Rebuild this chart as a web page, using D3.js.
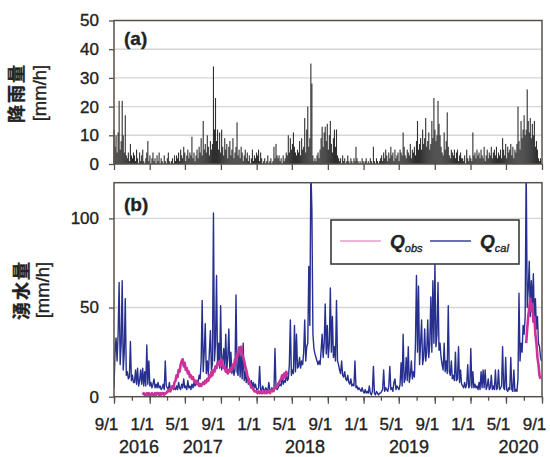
<!DOCTYPE html>
<html>
<head>
<meta charset="utf-8">
<script src="https://cdn.jsdelivr.net/npm/d3@7"></script>
<style>
    body { margin: 0; background: #fff; }
    text { font-family: "Liberation Sans", Arial, sans-serif; fill: #222; stroke: #222; stroke-width: 0.35px; }
</style>
</head>
<body>
<div id="chart"></div>
<script>
const startDate = "2016-09-01", endDate = "2020-09-01"
const stepHours = 84 // one value every 3.5 days

// (a) rainfall [mm/h]
const rain = [
    12, 6, 10, 4, 11, 22, 5, 8, 22, 10, 4, 17, 3, 2, 4, 1, 7, 3, 2, 4,
    3, 1, 5, 2, 0, 4, 1, 3, 5, 1, 0, 2, 4, 8, 1, 3, 0, 2, 4, 1,
    2, 0, 3, 1, 4, 0, 2, 1, 0, 3, 1, 0, 2, 4, 1, 0, 1, 2, 0, 3,
    1, 3, 2, 4, 1, 5, 3, 2, 6, 4, 1, 3, 5, 2, 4, 3, 9.5, 2, 4, 1,
    3, 5, 2, 6, 4, 9, 3, 15, 5, 7, 4, 10, 6, 3, 8, 5, 7, 34, 12, 23,
    8, 12, 5, 11, 4, 12, 6, 3, 9, 5, 7, 2, 6, 8, 3, 5, 9, 2, 4, 6,
    14.5, 3, 5, 2, 6, 4, 1, 3, 5, 2, 4, 1, 3, 0, 2, 5, 1, 3, 2, 4,
    3, 5, 1, 4, 2, 0, 1, 2, 0, 1, 3, 0, 1, 2, 0, 1, 6, 2, 7, 3,
    2, 3, 1, 2, 0, 3, 1, 2, 4, 3, 10, 4, 9, 5, 7, 11, 6, 4, 3, 5,
    4, 8, 3, 9, 5, 6, 16, 4, 12, 20, 6, 9, 35, 28, 3, 1, 2, 1, 3, 4,
    2, 5, 9, 13, 6, 11, 13, 8, 14, 5, 10, 15, 7, 4, 9, 12, 6, 12, 3, 2,
    1, 2, 0, 3, 1, 2, 0, 1, 3, 1, 0, 2, 1, 0, 2, 1, 6, 2, 1, 0,
    1, 0, 2, 1, 0, 1, 2, 0, 1, 0, 2, 1, 0, 6, 1, 0, 2, 1, 0, 1,
    2, 3, 1, 4, 2, 5, 3, 1, 4, 2, 6, 3, 4, 1, 5, 2, 3, 4, 1, 5,
    4, 3, 11, 6, 3, 2, 5, 4, 3, 7, 2, 5, 4, 6, 3, 8, 15, 5, 7, 9,
    5, 12, 7, 9, 16, 6, 8, 11, 5, 7, 15, 9, 23, 12, 8, 10, 22, 14, 10, 6,
    4, 3, 11, 5, 8, 18, 6, 3, 2, 5, 4, 3, 5, 2, 4, 5, 1, 3, 4, 2,
    2, 1, 3, 0, 5, 2, 1, 3, 2, 1, 11, 3, 4, 2, 5, 3, 4, 2, 5, 3,
    2, 6, 1, 3, 5, 2, 4, 3, 6, 2, 4, 5, 3, 6, 2, 4, 3, 5, 2, 9,
    5, 3, 7, 2, 6, 4, 5, 7, 3, 6, 2, 5, 4, 7, 20, 8, 5, 15, 9, 12,
    17, 10, 12, 26, 15, 11, 16, 9, 14, 10, 15, 6, 8, 5, 2, 1, 2, 0
]

// (b) spring discharge, calculated [mm/h]
const qCal = [
    5, 25, 33, 20, 35, 64, 18, 30, 65, 15, 25, 55, 12, 14, 10, 11, 31, 9, 12, 8,
    8, 15, 7, 16, 6, 9, 15, 7, 16, 6, 14, 6, 29, 7, 20, 6, 8, 5, 7, 10,
    5, 7, 5, 8, 5, 6, 4, 5, 7, 4, 20, 6, 5, 4, 8, 4, 5, 6, 4, 5,
    4, 6, 4, 8, 5, 4, 7, 5, 10, 5, 6, 4, 9, 5, 6, 4, 7, 5, 8, 6,
    7, 9, 8, 12, 10, 20, 54, 14, 25, 41, 13, 20, 12, 25, 37, 15, 18, 103, 20, 30,
    68, 18, 30, 16, 51, 15, 20, 27, 16, 35, 15, 22, 38, 14, 25, 13, 18, 12, 15, 57,
    14, 12, 28, 11, 25, 10, 30, 9, 14, 8, 12, 7, 10, 6, 9, 5, 8, 5, 7, 4,
    4, 5, 17, 4, 3, 6, 4, 3, 5, 4, 3, 8, 4, 3, 5, 4, 3, 27, 5, 4,
    5, 6, 7, 6, 12, 7, 9, 8, 14, 9, 10, 18, 43, 12, 15, 13, 40, 14, 35, 16,
    17, 22, 16, 20, 18, 25, 43, 20, 28, 30, 73, 40, 128, 105, 35, 27, 24, 22, 20, 18,
    20, 18, 26, 35, 22, 30, 52, 24, 40, 22, 30, 61, 25, 45, 22, 28, 20, 54, 20, 18,
    15, 13, 20, 12, 11, 14, 10, 9, 12, 8, 7, 10, 6, 7, 6, 20, 5, 6, 4, 5,
    4, 3, 5, 3, 2, 4, 2, 3, 2, 6, 2, 1, 3, 17, 2, 1, 3, 2, 1, 2,
    2, 3, 4, 15, 3, 5, 4, 3, 6, 17, 4, 5, 3, 8, 10, 4, 6, 5, 4, 7,
    19, 6, 35, 8, 10, 22, 9, 28, 8, 12, 20, 10, 14, 11, 30, 68, 25, 62, 18, 30,
    43, 18, 22, 38, 20, 25, 43, 22, 30, 56, 25, 65, 30, 75, 28, 35, 64, 26, 30, 22,
    18, 15, 30, 14, 20, 13, 51, 14, 12, 20, 10, 12, 9, 25, 9, 10, 28, 8, 15, 7,
    6, 5, 8, 5, 7, 18, 5, 6, 27, 5, 14, 5, 7, 5, 6, 4, 8, 4, 14, 5,
    15, 5, 15, 4, 6, 10, 4, 5, 12, 4, 6, 4, 15, 4, 5, 15, 4, 5, 6, 28,
    5, 4, 22, 4, 3, 5, 4, 22, 4, 3, 15, 3, 4, 3, 10, 58, 20, 30, 25, 40,
    35, 45, 130, 50, 60, 76, 45, 65, 50, 69, 42, 55, 38, 45, 30, 28, 22, 20
]

// (b) spring discharge, observed [mm/h] (two observation periods)
const qObsStartA = "2016-12-08"
const qObsA = [
    1, 2, 1, 1, 2, 1, 2, 1, 1, 2, 1, 1, 2, 1, 2, 2, 1, 2, 1, 2, 2, 1, 2, 2, 3,
    3, 4, 3, 5, 6, 5, 8, 9, 12, 11, 15, 14, 18, 20,
    21, 17, 19, 15, 16, 13, 14, 11, 12, 10, 11, 9,
    8, 9, 7, 8, 6, 7, 6, 7, 8, 7, 9, 8,
    10, 9, 12, 11, 14, 12, 15, 14, 17, 16, 19, 18, 20, 17, 21,
    18, 16, 17, 14, 15, 13, 15, 14, 16,
    15, 18, 17, 21, 20, 24, 23, 27, 25, 28, 24, 22,
    20, 17, 15, 12, 10, 8, 7, 5, 5, 4, 3, 3,
    3, 2, 3, 2, 3, 2, 2, 3, 2, 3, 2, 3, 3, 2, 3, 4, 3, 4, 5,
    5, 6, 7, 8, 9, 10, 12, 10, 13, 11, 14, 12
]
const qObsStartB = "2020-07-09"
const qObsB = [30, 38, 45, 50, 55, 48, 52, 42, 45, 35, 30, 22, 18, 12, 10]

const rainTicks = [0, 10, 20, 30, 40, 50]
const flowTicks = [0, 50, 100]
const yearLabels = ["2016", "2017", "2018", "2019", "2020"]
const yearDates = ["2016-11-25", "2017-07-01", "2018-06-15", "2019-06-05", "2020-06-13"]

const parse = d3.timeParse("%Y-%m-%d")
const frameColor = "#57504a", gridColor = "#d6d6d6"
const calColor = "#27308f", obsColor = "#cc3399"

const x = d3.scaleTime().domain([parse(startDate), parse(endDate)]).range([114, 542])
const yRain = d3.scaleLinear().domain([0, 50]).range([164, 20.5])
const yFlow = d3.scaleLinear().domain([0, 120]).range([396.7, 182.7])

function series(values, start) {
    const t0 = parse(start)
    return values.map((v, i) => ({ date: d3.timeHour.offset(t0, stepHours * i), v: v }))
}

const svg = d3.select("#chart").append("svg")
    .attr("width", 550)
    .attr("height", 457)

// ---------- panel (a) ----------
svg.append("g").selectAll("line")
    .data(rainTicks.slice(1, -1))
    .enter().append("line")
    .attr("x1", x.range()[0]).attr("x2", x.range()[1])
    .attr("y1", d => yRain(d)).attr("y2", d => yRain(d))
    .attr("stroke", gridColor).attr("stroke-width", 1.4)

svg.append("g").selectAll("rect")
    .data(series(rain, startDate))
    .enter().append("rect")
    .attr("x", d => x(d.date) - 0.55)
    .attr("width", 1.1)
    .attr("y", d => yRain(d.v))
    .attr("height", d => yRain(0) - yRain(d.v))
    .attr("fill", "#0d0d0d")
    .attr("fill-opacity", 0.85)

svg.append("rect")
    .attr("x", 114).attr("y", yRain(50))
    .attr("width", 428).attr("height", yRain(0) - yRain(50))
    .attr("fill", "none").attr("stroke", frameColor).attr("stroke-width", 1.5)

const yAxisA = svg.append("g")
    .attr("transform", "translate(114,0)")
    .call(d3.axisLeft(yRain).tickValues(rainTicks).tickSize(5).tickPadding(10))
const xAxisA = svg.append("g")
    .attr("transform", `translate(0,${yRain(0)})`)
    .call(d3.axisBottom(x).ticks(d3.timeMonth.every(4)).tickSize(6).tickFormat(""))

svg.append("text")
    .attr("x", 124).attr("y", 45)
    .style("font-size", "19px").style("font-weight", "bold")
    .text("(a)")

// ---------- panel (b) ----------
svg.append("g").selectAll("line")
    .data(flowTicks.slice(1))
    .enter().append("line")
    .attr("x1", x.range()[0]).attr("x2", x.range()[1])
    .attr("y1", d => yFlow(d)).attr("y2", d => yFlow(d))
    .attr("stroke", gridColor).attr("stroke-width", 1.4)

svg.append("clipPath").attr("id", "clipB")
    .append("rect")
    .attr("x", 114).attr("y", yFlow(120))
    .attr("width", 428).attr("height", yFlow(0) - yFlow(120))

const line = d3.line()
    .x(d => x(d.date))
    .y(d => yFlow(d.v))

const plotB = svg.append("g").attr("clip-path", "url(#clipB)")
plotB.append("path")
    .datum(series(qCal, startDate))
    .attr("d", line)
    .attr("fill", "none")
    .attr("stroke", calColor)
    .attr("stroke-width", 1.4)
    .attr("stroke-linejoin", "round")

const obsData = [series(qObsA, qObsStartA), series(qObsB, qObsStartB)]
plotB.selectAll(".obs")
    .data(obsData)
    .enter().append("path")
    .attr("class", "obs")
    .attr("d", line)
    .attr("fill", "none")
    .attr("stroke", obsColor)
    .attr("stroke-width", 2.6)
    .attr("stroke-linejoin", "round")

svg.append("rect")
    .attr("x", 114).attr("y", yFlow(120))
    .attr("width", 428).attr("height", yFlow(0) - yFlow(120))
    .attr("fill", "none").attr("stroke", frameColor).attr("stroke-width", 1.5)

const yAxisB = svg.append("g")
    .attr("transform", "translate(114,0)")
    .call(d3.axisLeft(yFlow).tickValues(flowTicks).tickSize(5).tickPadding(10))

const xMinor = svg.append("g")
    .attr("transform", `translate(0,${yFlow(0)})`)
    .call(d3.axisBottom(x).ticks(d3.timeMonth.every(2)).tickSize(4).tickFormat(""))
const xAxisB = svg.append("g")
    .attr("transform", `translate(0,${yFlow(0)})`)
    .call(d3.axisBottom(x).ticks(d3.timeMonth.every(4)).tickSize(7).tickPadding(14)
        .tickFormat(d3.timeFormat("%-m/%-d")))
xAxisB.selectAll("text").attr("dx", -8)

svg.append("g").selectAll("text")
    .data(yearLabels)
    .enter().append("text")
    .attr("x", (d, i) => x(parse(yearDates[i])))
    .attr("y", 453)
    .attr("text-anchor", "middle")
    .style("font-size", "18px")
    .text(d => d)

svg.append("text")
    .attr("x", 124).attr("y", 211)
    .style("font-size", "19px").style("font-weight", "bold")
    .text("(b)")

// axis styling
for (const ax of [yAxisA, xAxisA, yAxisB, xMinor, xAxisB]) {
    ax.select(".domain").remove()
    ax.selectAll("line").attr("stroke", frameColor).attr("stroke-width", 1.3)
    ax.selectAll("text")
        .style("font-family", "'Liberation Sans', Arial, sans-serif")
        .style("font-size", "17px")
        .attr("fill", "#222")
}

// legend
const legend = svg.append("g").attr("transform", "translate(331,220)")
legend.append("rect")
    .attr("width", 188).attr("height", 44)
    .attr("fill", "#fff").attr("stroke", "#3a3a3a").attr("stroke-width", 1.6)
const legendItems = [
    { sub: "obs", color: "#e49bcb", x0: 9 },
    { sub: "cal", color: "#3a3ea2", x0: 99 }
]
legendItems.forEach(it => {
    legend.append("line")
        .attr("x1", it.x0).attr("x2", it.x0 + 41)
        .attr("y1", 21).attr("y2", 21)
        .attr("stroke", it.color).attr("stroke-width", 1.6)
    const t = legend.append("text")
        .attr("x", it.x0 + 50).attr("y", 28)
        .style("font-size", "19px").style("font-style", "italic").style("font-weight", "bold")
    t.append("tspan").text("Q")
    t.append("tspan").attr("dy", 4)
        .style("font-size", "11px").style("font-weight", "normal")
        .text(it.sub)
})

// y titles
const yTitles = [
    { lines: ["降雨量", "[mm/h]"], xs: [15, 39], y: 93 },
    { lines: ["湧水量", "[mm/h]"], xs: [20, 42.5], y: 290 }
]
yTitles.forEach(tt => {
    tt.lines.forEach((s, i) => {
        svg.append("text")
            .attr("transform", `translate(${tt.xs[i]},${tt.y}) rotate(-90)`)
            .attr("text-anchor", "middle")
            .attr("dominant-baseline", "central")
            .style("font-family", i == 0 ? "'Noto Sans CJK JP', sans-serif" : "'Liberation Sans', Arial, sans-serif")
            .style("font-size", i == 0 ? "18px" : "18.5px")
            .style("font-weight", i == 0 ? "bold" : "normal")
            .style("letter-spacing", i == 0 ? "2px" : "0px")
            .text(s)
    })
})
</script>
</body>
</html>
